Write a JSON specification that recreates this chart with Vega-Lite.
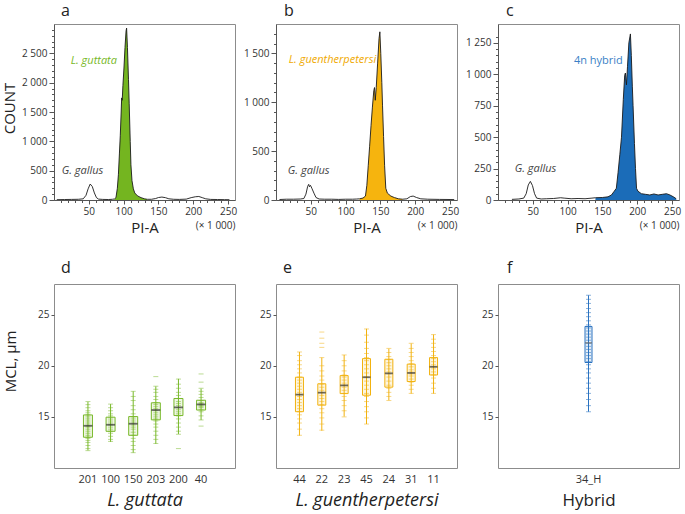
{
"$schema": "https://vega.github.io/schema/vega-lite/v6.json",
"padding": {"left": 2, "top": 2, "right": 2, "bottom": 0},
"background": "white",
"config": {
  "font": "Open Sans",
  "view": {"stroke": "#8c8c8c", "strokeWidth": 1},
  "axis": {"labelFont": "Open Sans", "labelFontSize": 10, "labelColor": "#333", "domainColor": "#555", "tickColor": "#555", "grid": false, "titleFont": "Open Sans", "titleFontWeight": "normal", "titleColor": "#222", "labelPadding": 2},
  "title": {"fontSize": 16, "fontWeight": "normal", "anchor": "start", "frame": "group", "font": "Open Sans", "color": "#222", "baseline": "alphabetic", "offset": 5}
},
"datasets": {
  "histA": [
    {"x":4,"c":5,"f":0},{"x":15,"c":8,"f":0},{"x":25,"c":10,"f":0},{"x":35,"c":12,"f":0},{"x":42,"c":20,"f":0},{"x":46,"c":80,"f":0},{"x":49,"c":190,"f":0},{"x":52,"c":272,"f":0},{"x":55,"c":230,"f":0},{"x":58,"c":120,"f":0},{"x":61,"c":40,"f":0},{"x":64,"c":15,"f":0},{"x":70,"c":10,"f":0},{"x":78,"c":8,"f":0},{"x":84,"c":12,"f":0},
    {"x":87,"c":18,"f":1},{"x":89,"c":40,"f":1},{"x":91,"c":200,"f":1},{"x":92.5,"c":430,"f":1},{"x":94,"c":800,"f":1},{"x":95.2,"c":1094,"f":1},{"x":96.5,"c":1500,"f":1},{"x":97.2,"c":1740,"f":1},{"x":98,"c":1700,"f":1},{"x":99,"c":1950,"f":1},{"x":100.5,"c":2250,"f":1},{"x":102,"c":2600,"f":1},{"x":103.5,"c":2880,"f":1},{"x":104.3,"c":2930,"f":1},{"x":105.5,"c":2600,"f":1},{"x":107,"c":2050,"f":1},{"x":108,"c":1650,"f":1},{"x":109.5,"c":1000,"f":1},{"x":110.5,"c":600,"f":1},{"x":112,"c":330,"f":1},{"x":114,"c":190,"f":1},{"x":116,"c":120,"f":1},{"x":120,"c":70,"f":1},{"x":125,"c":40,"f":1},{"x":130,"c":20,"f":1},{"x":134,"c":12,"f":1},
    {"x":140,"c":12,"f":0},{"x":146,"c":25,"f":0},{"x":150,"c":42,"f":0},{"x":155,"c":50,"f":0},{"x":160,"c":40,"f":0},{"x":165,"c":20,"f":0},{"x":172,"c":12,"f":0},{"x":180,"c":10,"f":0},{"x":190,"c":15,"f":0},{"x":197,"c":40,"f":0},{"x":203,"c":55,"f":0},{"x":208,"c":60,"f":0},{"x":213,"c":40,"f":0},{"x":218,"c":20,"f":0},{"x":225,"c":10,"f":0},{"x":235,"c":8,"f":0},{"x":245,"c":6,"f":0},{"x":252,"c":5,"f":0}
  ],
  "histB": [
    {"x":5,"c":5,"f":0},{"x":15,"c":8,"f":0},{"x":25,"c":8,"f":0},{"x":35,"c":10,"f":0},{"x":40,"c":15,"f":0},{"x":43,"c":60,"f":0},{"x":45.5,"c":140,"f":0},{"x":47,"c":160,"f":0},{"x":48,"c":135,"f":0},{"x":49.5,"c":150,"f":0},{"x":51.5,"c":120,"f":0},{"x":54.5,"c":70,"f":0},{"x":57.5,"c":25,"f":0},{"x":62,"c":10,"f":0},{"x":70,"c":8,"f":0},{"x":80,"c":8,"f":0},{"x":90,"c":6,"f":0},{"x":100,"c":8,"f":0},{"x":110,"c":8,"f":0},{"x":116,"c":10,"f":0},
    {"x":120,"c":12,"f":1},{"x":125,"c":20,"f":1},{"x":128.5,"c":40,"f":1},{"x":130.5,"c":150,"f":1},{"x":132.5,"c":350,"f":1},{"x":134.5,"c":550,"f":1},{"x":136.5,"c":760,"f":1},{"x":138.5,"c":950,"f":1},{"x":140.5,"c":1118,"f":1},{"x":141.5,"c":1150,"f":1},{"x":142.6,"c":1020,"f":1},{"x":144,"c":1150,"f":1},{"x":146,"c":1400,"f":1},{"x":148,"c":1650,"f":1},{"x":149.2,"c":1720,"f":1},{"x":150.5,"c":1500,"f":1},{"x":152,"c":1200,"f":1},{"x":153,"c":970,"f":1},{"x":154.5,"c":650,"f":1},{"x":156,"c":350,"f":1},{"x":157.7,"c":120,"f":1},{"x":160,"c":70,"f":1},{"x":165,"c":40,"f":1},{"x":170,"c":25,"f":1},{"x":176,"c":12,"f":1},{"x":182,"c":8,"f":1},
    {"x":188,"c":12,"f":0},{"x":193,"c":35,"f":0},{"x":197,"c":40,"f":0},{"x":202,"c":25,"f":0},{"x":208,"c":12,"f":0},{"x":218,"c":8,"f":0},{"x":235,"c":6,"f":0},{"x":250,"c":5,"f":0},{"x":256,"c":4,"f":0}
  ],
  "histC": [
    {"x":20,"c":5,"f":0},{"x":30,"c":8,"f":0},{"x":37,"c":15,"f":0},{"x":40.5,"c":50,"f":0},{"x":43.5,"c":120,"f":0},{"x":46.5,"c":148,"f":0},{"x":49.5,"c":115,"f":0},{"x":52.5,"c":50,"f":0},{"x":55.5,"c":15,"f":0},{"x":62,"c":8,"f":0},{"x":70,"c":10,"f":0},{"x":80,"c":12,"f":0},{"x":90,"c":18,"f":0},{"x":95,"c":15,"f":0},{"x":105,"c":10,"f":0},{"x":115,"c":12,"f":0},{"x":125,"c":10,"f":0},{"x":135,"c":15,"f":0},
    {"x":140,"c":18,"f":1},{"x":150,"c":20,"f":1},{"x":158,"c":25,"f":1},{"x":163,"c":40,"f":1},{"x":167,"c":70,"f":1},{"x":170,"c":93,"f":1},{"x":172.5,"c":220,"f":1},{"x":175,"c":360,"f":1},{"x":177.4,"c":499,"f":1},{"x":180,"c":800,"f":1},{"x":182,"c":992,"f":1},{"x":183,"c":1010,"f":1},{"x":184.5,"c":916,"f":1},{"x":186,"c":1060,"f":1},{"x":188,"c":1250,"f":1},{"x":190.2,"c":1321,"f":1},{"x":191.5,"c":1150,"f":1},{"x":193,"c":900,"f":1},{"x":194,"c":752,"f":1},{"x":196,"c":450,"f":1},{"x":197.5,"c":250,"f":1},{"x":199,"c":93,"f":1},{"x":201,"c":70,"f":1},{"x":206,"c":50,"f":1},{"x":212,"c":45,"f":1},{"x":218,"c":40,"f":1},{"x":224,"c":48,"f":1},{"x":230,"c":40,"f":1},{"x":236,"c":45,"f":1},{"x":242,"c":50,"f":1},{"x":247,"c":40,"f":1},{"x":252,"c":25,"f":1},{"x":256,"c":10,"f":1}
  ],
  "boxD": [
    {"g":"201","lo":11.73,"q1":13.01,"med":14.13,"q3":15.19,"hi":16.47},
    {"g":"100","lo":12.56,"q1":13.59,"med":14.23,"q3":14.97,"hi":16.25},
    {"g":"150","lo":11.5,"q1":13.2,"med":14.33,"q3":15.03,"hi":17.5},
    {"g":"203","lo":12.37,"q1":14.71,"med":15.67,"q3":16.38,"hi":17.98},
    {"g":"200","lo":13.33,"q1":15.13,"med":15.93,"q3":16.8,"hi":18.72},
    {"g":"40","lo":14.7,"q1":15.67,"med":16.22,"q3":16.63,"hi":17.76}
  ],
  "ptsD": [
    {"g":"201","v":11.7},{"g":"201","v":11.9},{"g":"201","v":12.2},{"g":"201","v":12.5},{"g":"201","v":12.7},{"g":"201","v":12.9},{"g":"201","v":13.0},{"g":"201","v":13.2},{"g":"201","v":13.4},{"g":"201","v":13.6},{"g":"201","v":13.8},{"g":"201","v":14.0},{"g":"201","v":14.1},{"g":"201","v":14.2},{"g":"201","v":14.4},{"g":"201","v":14.6},{"g":"201","v":14.8},{"g":"201","v":15.0},{"g":"201","v":15.2},{"g":"201","v":15.4},{"g":"201","v":15.6},{"g":"201","v":15.9},{"g":"201","v":16.2},{"g":"201","v":16.5},
    {"g":"100","v":12.6},{"g":"100","v":12.8},{"g":"100","v":13.1},{"g":"100","v":13.4},{"g":"100","v":13.6},{"g":"100","v":13.8},{"g":"100","v":14.0},{"g":"100","v":14.2},{"g":"100","v":14.3},{"g":"100","v":14.5},{"g":"100","v":14.7},{"g":"100","v":14.9},{"g":"100","v":15.1},{"g":"100","v":15.3},{"g":"100","v":15.6},{"g":"100","v":15.9},{"g":"100","v":16.25},
    {"g":"150","v":11.5},{"g":"150","v":11.8},{"g":"150","v":12.2},{"g":"150","v":12.6},{"g":"150","v":12.9},{"g":"150","v":13.2},{"g":"150","v":13.5},{"g":"150","v":13.8},{"g":"150","v":14.0},{"g":"150","v":14.2},{"g":"150","v":14.4},{"g":"150","v":14.6},{"g":"150","v":14.8},{"g":"150","v":15.0},{"g":"150","v":15.3},{"g":"150","v":15.7},{"g":"150","v":16.1},{"g":"150","v":16.6},{"g":"150","v":17.0},{"g":"150","v":17.5},
    {"g":"203","v":12.4},{"g":"203","v":12.8},{"g":"203","v":13.2},{"g":"203","v":13.6},{"g":"203","v":14.0},{"g":"203","v":14.3},{"g":"203","v":14.6},{"g":"203","v":14.8},{"g":"203","v":15.0},{"g":"203","v":15.2},{"g":"203","v":15.4},{"g":"203","v":15.6},{"g":"203","v":15.8},{"g":"203","v":16.0},{"g":"203","v":16.2},{"g":"203","v":16.4},{"g":"203","v":16.7},{"g":"203","v":17.0},{"g":"203","v":17.4},{"g":"203","v":17.7},{"g":"203","v":18.0},{"g":"203","v":18.94},
    {"g":"200","v":11.9},{"g":"200","v":13.3},{"g":"200","v":13.6},{"g":"200","v":14.0},{"g":"200","v":14.4},{"g":"200","v":14.8},{"g":"200","v":15.1},{"g":"200","v":15.3},{"g":"200","v":15.5},{"g":"200","v":15.7},{"g":"200","v":15.9},{"g":"200","v":16.1},{"g":"200","v":16.3},{"g":"200","v":16.5},{"g":"200","v":16.8},{"g":"200","v":17.1},{"g":"200","v":17.4},{"g":"200","v":17.8},{"g":"200","v":18.2},{"g":"200","v":18.7},
    {"g":"40","v":14.1},{"g":"40","v":14.7},{"g":"40","v":15.1},{"g":"40","v":15.5},{"g":"40","v":15.7},{"g":"40","v":15.9},{"g":"40","v":16.0},{"g":"40","v":16.1},{"g":"40","v":16.2},{"g":"40","v":16.3},{"g":"40","v":16.4},{"g":"40","v":16.6},{"g":"40","v":16.9},{"g":"40","v":17.2},{"g":"40","v":17.5},{"g":"40","v":17.8},{"g":"40","v":18.4},{"g":"40","v":19.2}
  ],
  "boxE": [
    {"g":"44","lo":13.17,"q1":15.51,"med":17.18,"q3":18.88,"hi":21.35},
    {"g":"22","lo":13.65,"q1":16.15,"med":17.37,"q3":18.24,"hi":20.8},
    {"g":"23","lo":15.03,"q1":17.28,"med":18.08,"q3":19.04,"hi":21.06},
    {"g":"45","lo":14.3,"q1":17.12,"med":18.88,"q3":20.7,"hi":23.62},
    {"g":"24","lo":16.63,"q1":17.91,"med":19.26,"q3":20.64,"hi":21.67},
    {"g":"31","lo":17.28,"q1":18.46,"med":19.3,"q3":20.16,"hi":22.18},
    {"g":"11","lo":17.28,"q1":19.1,"med":19.9,"q3":20.8,"hi":23.05}
  ],
  "ptsE": [
    {"g":"44","v":13.2},{"g":"44","v":13.8},{"g":"44","v":14.4},{"g":"44","v":14.8},{"g":"44","v":15.2},{"g":"44","v":15.5},{"g":"44","v":15.8},{"g":"44","v":16.1},{"g":"44","v":16.4},{"g":"44","v":16.7},{"g":"44","v":17.0},{"g":"44","v":17.2},{"g":"44","v":17.4},{"g":"44","v":17.7},{"g":"44","v":18.0},{"g":"44","v":18.3},{"g":"44","v":18.6},{"g":"44","v":18.9},{"g":"44","v":19.3},{"g":"44","v":19.7},{"g":"44","v":20.1},{"g":"44","v":20.5},{"g":"44","v":21.0},{"g":"44","v":21.35},
    {"g":"22","v":13.7},{"g":"22","v":14.3},{"g":"22","v":14.9},{"g":"22","v":15.4},{"g":"22","v":15.8},{"g":"22","v":16.2},{"g":"22","v":16.5},{"g":"22","v":16.8},{"g":"22","v":17.1},{"g":"22","v":17.4},{"g":"22","v":17.6},{"g":"22","v":17.9},{"g":"22","v":18.2},{"g":"22","v":18.6},{"g":"22","v":19.0},{"g":"22","v":19.5},{"g":"22","v":20.0},{"g":"22","v":20.8},{"g":"22","v":21.8},{"g":"22","v":22.2},{"g":"22","v":22.7},{"g":"22","v":23.3},
    {"g":"23","v":15.0},{"g":"23","v":15.6},{"g":"23","v":16.1},{"g":"23","v":16.6},{"g":"23","v":17.0},{"g":"23","v":17.3},{"g":"23","v":17.6},{"g":"23","v":17.9},{"g":"23","v":18.1},{"g":"23","v":18.3},{"g":"23","v":18.6},{"g":"23","v":18.9},{"g":"23","v":19.1},{"g":"23","v":19.5},{"g":"23","v":20.0},{"g":"23","v":20.5},{"g":"23","v":21.06},
    {"g":"45","v":14.3},{"g":"45","v":14.9},{"g":"45","v":15.5},{"g":"45","v":16.0},{"g":"45","v":16.5},{"g":"45","v":17.0},{"g":"45","v":17.3},{"g":"45","v":17.7},{"g":"45","v":18.1},{"g":"45","v":18.5},{"g":"45","v":18.9},{"g":"45","v":19.3},{"g":"45","v":19.7},{"g":"45","v":20.1},{"g":"45","v":20.5},{"g":"45","v":20.8},{"g":"45","v":21.2},{"g":"45","v":21.7},{"g":"45","v":22.3},{"g":"45","v":23.0},{"g":"45","v":23.6},
    {"g":"24","v":16.6},{"g":"24","v":17.0},{"g":"24","v":17.4},{"g":"24","v":17.8},{"g":"24","v":18.1},{"g":"24","v":18.5},{"g":"24","v":18.9},{"g":"24","v":19.2},{"g":"24","v":19.4},{"g":"24","v":19.7},{"g":"24","v":20.0},{"g":"24","v":20.3},{"g":"24","v":20.6},{"g":"24","v":20.9},{"g":"24","v":21.3},{"g":"24","v":21.7},
    {"g":"31","v":17.3},{"g":"31","v":17.7},{"g":"31","v":18.1},{"g":"31","v":18.4},{"g":"31","v":18.7},{"g":"31","v":19.0},{"g":"31","v":19.2},{"g":"31","v":19.4},{"g":"31","v":19.6},{"g":"31","v":19.9},{"g":"31","v":20.2},{"g":"31","v":20.5},{"g":"31","v":20.9},{"g":"31","v":21.3},{"g":"31","v":21.7},{"g":"31","v":22.2},
    {"g":"11","v":17.3},{"g":"11","v":17.8},{"g":"11","v":18.3},{"g":"11","v":18.8},{"g":"11","v":19.1},{"g":"11","v":19.4},{"g":"11","v":19.7},{"g":"11","v":19.9},{"g":"11","v":20.1},{"g":"11","v":20.4},{"g":"11","v":20.7},{"g":"11","v":21.0},{"g":"11","v":21.4},{"g":"11","v":21.8},{"g":"11","v":22.2},{"g":"11","v":22.6},{"g":"11","v":23.05}
  ],
  "boxF": [
    {"g":"34_H","lo":15.51,"q1":20.32,"med":22.24,"q3":23.85,"hi":26.89}
  ],
  "ptsF": [
    {"g":"34_H","v":15.5},{"g":"34_H","v":16.1},{"g":"34_H","v":16.7},{"g":"34_H","v":17.3},{"g":"34_H","v":17.8},{"g":"34_H","v":18.3},{"g":"34_H","v":18.8},{"g":"34_H","v":19.3},{"g":"34_H","v":19.7},{"g":"34_H","v":20.1},{"g":"34_H","v":20.4},{"g":"34_H","v":20.7},{"g":"34_H","v":21.0},{"g":"34_H","v":21.3},{"g":"34_H","v":21.6},{"g":"34_H","v":21.9},{"g":"34_H","v":22.2},{"g":"34_H","v":22.5},{"g":"34_H","v":22.8},{"g":"34_H","v":23.1},{"g":"34_H","v":23.4},{"g":"34_H","v":23.7},{"g":"34_H","v":24.0},{"g":"34_H","v":24.4},{"g":"34_H","v":24.8},{"g":"34_H","v":25.2},{"g":"34_H","v":25.6},{"g":"34_H","v":26.1},{"g":"34_H","v":26.5},{"g":"34_H","v":26.9}
  ]
},
"columns": 3,
"bounds": "flush",
"spacing": {"row": 84, "column": 41},
"concat": [
  {
    "width": 181, "height": 176,
    "title": {"text": "a", "dx": 7},
    "data": {"name": "histA"},
    "resolve": {"axis": {"x": "independent", "y": "independent"}},
    "layer": [
      {"transform": [{"filter": "datum.f == 1"}],
       "mark": {"type": "area", "color": "#74b520", "clip": true},
       "encoding": {
         "x": {"field": "x", "type": "quantitative", "scale": {"domain": [0, 258]}, "axis": {"values": [50,100,150,200,250], "tickSize": 4, "title": "PI-A", "titleFontSize": 15, "titlePadding": 4}},
         "y": {"field": "c", "type": "quantitative", "scale": {"domain": [0, 2930]}, "axis": {"values": [0,500,1000,1500,2000,2500], "tickSize": 5, "labelExpr": "replace(format(datum.value, ','), ',', ' ')", "title": "COUNT", "titleFontSize": 15, "titlePadding": 4, "titleY": 84}}
       }},
      {"mark": {"type": "line", "color": "#1a1a1a", "strokeWidth": 0.9, "clip": true},
       "encoding": {
         "x": {"field": "x", "type": "quantitative", "axis": {"orient": "bottom", "values": [10,20,30,40,50,60,70,80,90,100,110,120,130,140,150,160,170,180,190,200,210,220,230,240,250], "tickSize": 2.5, "labels": false, "domain": false, "title": "(× 1 000)", "titleFontSize": 10, "titleAnchor": "end", "titlePadding": 17, "titleColor": "#333"}},
         "y": {"field": "c", "type": "quantitative", "axis": {"orient": "left", "values": [100,200,300,400,600,700,800,900,1100,1200,1300,1400,1600,1700,1800,1900,2100,2200,2300,2400,2600,2700,2800,2900], "tickSize": 2.5, "labels": false, "domain": false, "title": null}}
       }},
      {"data": {"values": [{}]}, "mark": {"type": "text", "text": "L. guttata", "align": "left", "fontStyle": "italic", "fontSize": 11, "color": "#78b828"},
       "encoding": {"x": {"datum": 24, "type": "quantitative", "axis": null}, "y": {"datum": 2370, "type": "quantitative", "axis": null}}},
      {"data": {"values": [{}]}, "mark": {"type": "text", "text": "G. gallus", "align": "left", "fontStyle": "italic", "fontSize": 11, "color": "#444"},
       "encoding": {"x": {"datum": 11, "type": "quantitative", "axis": null}, "y": {"datum": 495, "type": "quantitative", "axis": null}}}
    ]
  },
  {
    "width": 181, "height": 176,
    "title": {"text": "b", "dx": 8},
    "data": {"name": "histB"},
    "resolve": {"axis": {"x": "independent", "y": "independent"}},
    "layer": [
      {"transform": [{"filter": "datum.f == 1"}],
       "mark": {"type": "area", "color": "#f6b40e", "clip": true},
       "encoding": {
         "x": {"field": "x", "type": "quantitative", "scale": {"domain": [0, 257]}, "axis": {"values": [50,100,150,200,250], "tickSize": 4, "title": "PI-A", "titleFontSize": 15, "titlePadding": 4}},
         "y": {"field": "c", "type": "quantitative", "scale": {"domain": [0, 1720]}, "axis": {"values": [0,500,1000,1500], "tickSize": 5, "labelExpr": "replace(format(datum.value, ','), ',', ' ')", "title": null}}
       }},
      {"mark": {"type": "line", "color": "#1a1a1a", "strokeWidth": 0.9, "clip": true},
       "encoding": {
         "x": {"field": "x", "type": "quantitative", "axis": {"orient": "bottom", "values": [10,20,30,40,50,60,70,80,90,100,110,120,130,140,150,160,170,180,190,200,210,220,230,240,250], "tickSize": 2.5, "labels": false, "domain": false, "title": "(× 1 000)", "titleFontSize": 10, "titleAnchor": "end", "titlePadding": 17, "titleColor": "#333"}},
         "y": {"field": "c", "type": "quantitative", "axis": {"orient": "left", "values": [100,200,300,400,600,700,800,900,1100,1200,1300,1400,1600,1700], "tickSize": 2.5, "labels": false, "domain": false, "title": null}}
       }},
      {"data": {"values": [{}]}, "mark": {"type": "text", "text": "L. guentherpetersi", "align": "left", "fontStyle": "italic", "fontSize": 11, "color": "#f0a900"},
       "encoding": {"x": {"datum": 18.4, "type": "quantitative", "axis": null}, "y": {"datum": 1428, "type": "quantitative", "axis": null}}},
      {"data": {"values": [{}]}, "mark": {"type": "text", "text": "G. gallus", "align": "left", "fontStyle": "italic", "fontSize": 11, "color": "#444"},
       "encoding": {"x": {"datum": 17, "type": "quantitative", "axis": null}, "y": {"datum": 294, "type": "quantitative", "axis": null}}}
    ]
  },
  {
    "width": 181, "height": 176,
    "title": {"text": "c", "dx": 8},
    "data": {"name": "histC"},
    "resolve": {"axis": {"x": "independent", "y": "independent"}},
    "layer": [
      {"transform": [{"filter": "datum.f == 1"}],
       "mark": {"type": "area", "color": "#1b6cb8", "clip": true},
       "encoding": {
         "x": {"field": "x", "type": "quantitative", "scale": {"domain": [0, 260]}, "axis": {"values": [50,100,150,200,250], "tickSize": 4, "title": "PI-A", "titleFontSize": 15, "titlePadding": 4}},
         "y": {"field": "c", "type": "quantitative", "scale": {"domain": [0, 1335]}, "axis": {"values": [0,250,500,750,1000,1250], "tickSize": 5, "labelExpr": "replace(format(datum.value, ','), ',', ' ')", "title": null}}
       }},
      {"mark": {"type": "line", "color": "#1a1a1a", "strokeWidth": 0.9, "clip": true},
       "encoding": {
         "x": {"field": "x", "type": "quantitative", "axis": {"orient": "bottom", "values": [10,20,30,40,50,60,70,80,90,100,110,120,130,140,150,160,170,180,190,200,210,220,230,240,250], "tickSize": 2.5, "labels": false, "domain": false, "title": "(× 1 000)", "titleFontSize": 10, "titleAnchor": "end", "titlePadding": 17, "titleColor": "#333"}},
         "y": {"field": "c", "type": "quantitative", "axis": {"orient": "left", "values": [50,100,150,200,300,350,400,450,550,600,650,700,800,850,900,950,1050,1100,1150,1200,1300], "tickSize": 2.5, "labels": false, "domain": false, "title": null}}
       }},
      {"data": {"values": [{}]}, "mark": {"type": "text", "text": "4n hybrid", "align": "left", "fontSize": 11, "color": "#3a7fc6"},
       "encoding": {"x": {"datum": 109, "type": "quantitative", "axis": null}, "y": {"datum": 1106, "type": "quantitative", "axis": null}}},
      {"data": {"values": [{}]}, "mark": {"type": "text", "text": "G. gallus", "align": "left", "fontStyle": "italic", "fontSize": 11, "color": "#444"},
       "encoding": {"x": {"datum": 24, "type": "quantitative", "axis": null}, "y": {"datum": 245, "type": "quantitative", "axis": null}}}
    ]
  },
  {
    "width": 181, "height": 184,
    "title": {"text": "d", "dx": 7, "offset": 8},
    "layer": [
      {"data": {"name": "ptsD"}, "mark": {"type": "tick", "color": "#78b828", "opacity": 0.5, "size": 5, "thickness": 1},
       "encoding": {
         "x": {"field": "g", "type": "nominal", "scale": {"type": "band", "domain": ["201","100","150","203","200","40"], "paddingInner": 0, "paddingOuter": 1.15}, "axis": {"labelAngle": 0, "labelFontSize": 11, "tickSize": 0, "labelPadding": 5, "domain": false, "title": "L. guttata", "titleFontStyle": "italic", "titleFontSize": 18, "titlePadding": 7}},
         "y": {"field": "v", "type": "quantitative", "scale": {"domain": [10.2, 27.9]}, "axis": {"values": [15,20,25], "tickSize": 3, "domain": false, "title": "MCL, µm", "titleFontSize": 15, "titlePadding": 19, "titleY": 77}}
       }},
      {"data": {"name": "boxD"}, "mark": {"type": "rule", "color": "#78b828", "strokeWidth": 1},
       "encoding": {"x": {"field": "g", "type": "nominal"}, "y": {"field": "lo", "type": "quantitative"}, "y2": {"field": "hi"}}},
      {"data": {"name": "boxD"}, "mark": {"type": "bar", "fill": "#78b828", "fillOpacity": 0.12, "stroke": "#78b828", "strokeWidth": 1, "width": 9},
       "encoding": {"x": {"field": "g", "type": "nominal"}, "y": {"field": "q1", "type": "quantitative"}, "y2": {"field": "q3"}}},
      {"data": {"name": "boxD"}, "mark": {"type": "tick", "color": "#333", "size": 9, "thickness": 1.8},
       "encoding": {"x": {"field": "g", "type": "nominal"}, "y": {"field": "med", "type": "quantitative"}}}
    ]
  },
  {
    "width": 181, "height": 184,
    "title": {"text": "e", "dx": 7, "offset": 8},
    "layer": [
      {"data": {"name": "ptsE"}, "mark": {"type": "tick", "color": "#f2b20f", "opacity": 0.5, "size": 5, "thickness": 1},
       "encoding": {
         "x": {"field": "g", "type": "nominal", "scale": {"type": "band", "domain": ["44","22","23","45","24","31","11"], "paddingInner": 0, "paddingOuter": 0.55}, "axis": {"labelAngle": 0, "labelFontSize": 11, "tickSize": 0, "labelPadding": 5, "domain": false, "title": "L. guentherpetersi", "titleFontStyle": "italic", "titleFontSize": 18, "titlePadding": 7}},
         "y": {"field": "v", "type": "quantitative", "scale": {"domain": [10.2, 27.9]}, "axis": {"values": [15,20,25], "tickSize": 3, "domain": false, "title": null}}
       }},
      {"data": {"name": "boxE"}, "mark": {"type": "rule", "color": "#f2b20f", "strokeWidth": 1},
       "encoding": {"x": {"field": "g", "type": "nominal"}, "y": {"field": "lo", "type": "quantitative"}, "y2": {"field": "hi"}}},
      {"data": {"name": "boxE"}, "mark": {"type": "bar", "fill": "#f2b20f", "fillOpacity": 0.12, "stroke": "#f2b20f", "strokeWidth": 1, "width": 8},
       "encoding": {"x": {"field": "g", "type": "nominal"}, "y": {"field": "q1", "type": "quantitative"}, "y2": {"field": "q3"}}},
      {"data": {"name": "boxE"}, "mark": {"type": "tick", "color": "#333", "size": 8, "thickness": 1.8},
       "encoding": {"x": {"field": "g", "type": "nominal"}, "y": {"field": "med", "type": "quantitative"}}}
    ]
  },
  {
    "width": 181, "height": 184,
    "title": {"text": "f", "dx": 9, "offset": 8},
    "layer": [
      {"data": {"name": "ptsF"}, "mark": {"type": "tick", "color": "#2a72c0", "opacity": 0.55, "size": 5, "thickness": 1},
       "encoding": {
         "x": {"field": "g", "type": "nominal", "scale": {"type": "band", "domain": ["34_H"], "paddingInner": 0, "paddingOuter": 3.5}, "axis": {"labelAngle": 0, "labelFontSize": 11, "tickSize": 0, "labelPadding": 5, "domain": false, "title": "Hybrid", "titleFontSize": 17, "titlePadding": 8}},
         "y": {"field": "v", "type": "quantitative", "scale": {"domain": [10.2, 27.9]}, "axis": {"values": [15,20,25], "tickSize": 3, "domain": false, "title": null}}
       }},
      {"data": {"name": "boxF"}, "mark": {"type": "rule", "color": "#2a72c0", "strokeWidth": 1},
       "encoding": {"x": {"field": "g", "type": "nominal"}, "y": {"field": "lo", "type": "quantitative"}, "y2": {"field": "hi"}}},
      {"data": {"name": "boxF"}, "mark": {"type": "bar", "fill": "#2a72c0", "fillOpacity": 0.12, "stroke": "#2a72c0", "strokeWidth": 1, "width": 7},
       "encoding": {"x": {"field": "g", "type": "nominal"}, "y": {"field": "q1", "type": "quantitative"}, "y2": {"field": "q3"}}},
      {"data": {"name": "boxF"}, "mark": {"type": "tick", "color": "#666", "size": 7, "thickness": 1.5},
       "encoding": {"x": {"field": "g", "type": "nominal"}, "y": {"field": "med", "type": "quantitative"}}}
    ]
  }
]
}
